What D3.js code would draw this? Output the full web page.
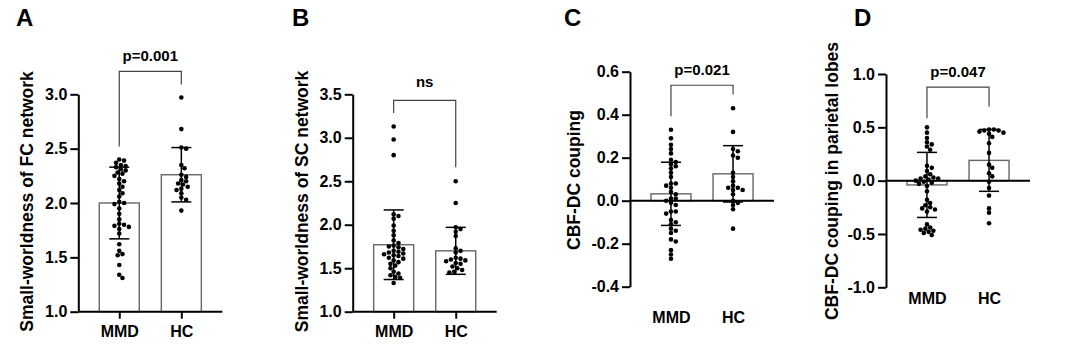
<!DOCTYPE html>
<html><head><meta charset="utf-8">
<script src="https://cdn.jsdelivr.net/npm/d3@7"></script>
<style>
html,body{margin:0;padding:0;background:#fff;}
svg text{font-family:"Liberation Sans",Arial,sans-serif;font-weight:bold;fill:#000;}
</style></head>
<body>
<svg id="chart" width="1080" height="355"></svg>
<script>
// ---------- DATA ----------
const categories = ["MMD", "HC"];
const panelLetters = ["A", "B", "C", "D"];
const yTitles = ["Small-worldness of FC network", "Small-worldness of SC network", "CBF-DC couping", "CBF-DC couping in parietal lobes"];
const pLabels = ["p=0.001", "ns", "p=0.021", "p=0.047"];

const fcTicks = [1.0, 1.5, 2.0, 2.5, 3.0];
const scTicks = [1.0, 1.5, 2.0, 2.5, 3.0, 3.5];
const cbfTicks = [-0.4, -0.2, 0.0, 0.2, 0.4, 0.6];
const parTicks = [-1.0, -0.5, 0.0, 0.5, 1.0];

const fcMMD = [2.40, 2.39, 2.37, 2.35, 2.34, 2.33, 2.31, 2.30, 2.28, 2.27, 2.25, 2.22, 2.20, 2.18, 2.15, 2.12, 2.09, 2.06, 2.01, 2.00, 1.99, 1.95, 1.90, 1.85, 1.81, 1.80, 1.79, 1.78, 1.76, 1.72, 1.62, 1.56, 1.53, 1.52, 1.43, 1.34, 1.31];
const fcHC = [2.97, 2.68, 2.51, 2.50, 2.35, 2.32, 2.26, 2.24, 2.21, 2.20, 2.18, 2.17, 2.15, 2.13, 2.12, 2.09, 2.05, 2.03, 1.93];
const fcMean = [2.00, 2.26];
const fcSD = [0.33, 0.25];

const scMMD = [3.13, 2.98, 2.80, 2.12, 2.10, 2.07, 1.99, 1.93, 1.88, 1.82, 1.79, 1.76, 1.75, 1.74, 1.72, 1.70, 1.69, 1.68, 1.67, 1.66, 1.65, 1.64, 1.62, 1.61, 1.59, 1.57, 1.55, 1.53, 1.50, 1.46, 1.44, 1.42, 1.40, 1.39, 1.33];
const scHC = [2.50, 2.25, 1.97, 1.95, 1.92, 1.87, 1.73, 1.70, 1.68, 1.62, 1.61, 1.60, 1.59, 1.58, 1.56, 1.55, 1.52, 1.50, 1.48, 1.46, 1.45];
const scMean = [1.77, 1.70];
const scSD = [0.40, 0.27];

const cbfMMD = [0.33, 0.29, 0.26, 0.24, 0.22, 0.19, 0.18, 0.17, 0.16, 0.15, 0.13, 0.11, 0.08, 0.08, 0.07, 0.06, 0.04, 0.03, 0.01, 0.01, 0.00, -0.01, -0.02, -0.05, -0.05, -0.06, -0.09, -0.10, -0.11, -0.13, -0.14, -0.15, -0.18, -0.19, -0.23, -0.25, -0.27];
const cbfHC = [0.43, 0.32, 0.24, 0.23, 0.21, 0.20, 0.13, 0.11, 0.09, 0.07, 0.06, 0.06, 0.05, 0.05, 0.03, 0.00, -0.01, -0.02, -0.04, -0.13];
const cbfMean = [0.032, 0.125];
const cbfSD = [0.147, 0.131];

const parMMD = [0.50, 0.45, 0.40, 0.36, 0.34, 0.32, 0.29, 0.14, 0.12, 0.09, 0.06, 0.04, 0.03, 0.02, 0.02, 0.01, 0.00, -0.01, -0.02, -0.03, -0.05, -0.10, -0.18, -0.21, -0.23, -0.25, -0.26, -0.27, -0.29, -0.41, -0.44, -0.45, -0.46, -0.47, -0.48, -0.49, -0.51];
const parHC = [0.48, 0.48, 0.47, 0.47, 0.46, 0.45, 0.44, 0.41, 0.35, 0.26, 0.15, 0.12, 0.07, 0.04, -0.01, -0.07, -0.14, -0.26, -0.30, -0.40];
const parMean = [-0.04, 0.19];
const parSD = [0.305, 0.29];

// ---------- LAYOUT ----------
const panels = [
  {groups: [fcMMD, fcHC], mean: fcMean, sd: fcSD, ticks: fcTicks, domain: [1, 3],
   left: 78.3, top: 94.3, bottom: 311.7, base: 1, xLabY: 336.7, xTicks: true,
   bracket: [3.21, 2.52, 3.09], pY: 60.5, letterX: 16, ylabX: 33, ylabCY: 201.5},
  {groups: [scMMD, scHC], mean: scMean, sd: scSD, ticks: scTicks, domain: [1, 3.5],
   left: 352.7, top: 94.3, bottom: 311.7, base: 1, xLabY: 336.7, xTicks: true,
   bracket: [3.43, 3.285, 2.66], pY: 87.3, letterX: 292, ylabX: 308, ylabCY: 201.5},
  {groups: [cbfMMD, cbfHC], mean: cbfMean, sd: cbfSD, ticks: cbfTicks, domain: [-0.4, 0.6],
   left: 630, top: 71.7, bottom: 286.7, base: 0, xLabY: 323, xTicks: false,
   bracket: [0.537, 0.393, 0.494], pY: 75, letterX: 564, ylabX: 579.5, ylabCY: 180},
  {groups: [parMMD, parHC], mean: parMean, sd: parSD, ticks: parTicks, domain: [-1, 1],
   left: 886, top: 74, bottom: 287.3, base: 0, xLabY: 304, xTicks: false,
   bracket: [0.876, 0.585, 0.694], pY: 76.5, letterX: 854, ylabX: 838, ylabCY: 181}
];

const svg = d3.select("#chart");
const W = 144, barW = 40, capW = 20, r = 2.3;
const fmt = v => d3.format(".1f")(v).replace("\u2212", "-");

function swarm(values, y) {
  const placed = [];
  const out = [];
  const sorted = values.map((v, i) => ({v, i})).sort((a, b) => b.v - a.v);
  const minD = 2 * r * 0.92, step = 1.6;
  sorted.forEach(p => {
    const py = y(p.v);
    let k = 0, dx = 0;
    while (true) {
      const cand = k === 0 ? 0 : (k % 2 === 1 ? 1 : -1) * Math.ceil(k / 2) * step;
      const ok = placed.every(q => Math.hypot(q.dx - cand, q.py - py) >= minD);
      if (ok) { dx = cand; break; }
      k++;
    }
    placed.push({dx, py});
    out.push({v: p.v, dx, py});
  });
  return out;
}

panels.forEach((P, pi) => {
  const g = svg.append("g");
  const y = d3.scaleLinear().domain(P.domain).range([P.bottom, P.top]);
  const x = d3.scalePoint().domain(categories).range([P.left, P.left + W]).padding(0.66);
  const baseY = y(P.base);

  // bars
  g.selectAll("rect.bar").data(categories).join("rect")
    .attr("x", d => x(d) - barW / 2)
    .attr("width", barW)
    .attr("y", (d, i) => Math.min(y(P.mean[i]), baseY))
    .attr("height", (d, i) => Math.abs(y(P.mean[i]) - baseY))
    .attr("fill", "#fff").attr("stroke", "#666").attr("stroke-width", 1.4);

  // dots
  categories.forEach((c, ci) => {
    const pts = swarm(P.groups[ci], y);
    g.append("g").selectAll("circle").data(pts).join("circle")
      .attr("cx", d => x(c) + d.dx).attr("cy", d => d.py).attr("r", r).attr("fill", "#000");
  });

  // error bars
  categories.forEach((c, ci) => {
    const lo = y(P.mean[ci] - P.sd[ci]), hi = y(P.mean[ci] + P.sd[ci]);
    const eg = g.append("g").attr("stroke", "#000").attr("stroke-width", 1.5);
    eg.append("line").attr("x1", x(c)).attr("x2", x(c)).attr("y1", lo).attr("y2", hi);
    eg.append("line").attr("x1", x(c) - capW / 2).attr("x2", x(c) + capW / 2).attr("y1", lo).attr("y2", lo);
    eg.append("line").attr("x1", x(c) - capW / 2).attr("x2", x(c) + capW / 2).attr("y1", hi).attr("y2", hi);
  });

  // y axis
  const ya = g.append("g").attr("transform", `translate(${P.left},0)`)
    .call(d3.axisLeft(y).tickValues(P.ticks).tickFormat(fmt).tickSize(8).tickSizeOuter(0).tickPadding(3));
  ya.select(".domain").attr("stroke", "#000").attr("stroke-width", 2);
  ya.selectAll(".tick line").attr("stroke", "#000").attr("stroke-width", 2);
  ya.selectAll(".tick text").attr("font-size", 16).attr("font-family", null);

  // x axis
  const xa = g.append("g").attr("transform", `translate(0,${baseY})`)
    .call(d3.axisBottom(x).tickSize(P.xTicks ? 7 : 0).tickSizeOuter(0));
  xa.select(".domain").attr("d", `M${P.left},0H${P.left + W}`).attr("stroke", "#000").attr("stroke-width", 2);
  xa.selectAll(".tick line").attr("stroke", "#000").attr("stroke-width", 2);
  xa.selectAll(".tick text").attr("font-size", 16).attr("font-family", null)
    .attr("y", P.xLabY - baseY).attr("dy", 0);

  // bracket
  const [bt, bl, br] = P.bracket;
  g.append("path")
    .attr("d", `M${x("MMD")},${y(bl)}V${y(bt)}H${x("HC")}V${y(br)}`)
    .attr("fill", "none").attr("stroke", "#444").attr("stroke-width", 1.2);
  g.append("text").attr("x", (x("MMD") + x("HC")) / 2).attr("y", P.pY)
    .attr("text-anchor", "middle").attr("font-size", 15).text(pLabels[pi]);

  // y title
  g.append("text")
    .attr("transform", `translate(${P.ylabX},${P.ylabCY}) rotate(-90)`)
    .attr("text-anchor", "middle").attr("font-size", 17.5).text(yTitles[pi]);

  // panel letter
  g.append("text").attr("x", P.letterX).attr("y", 26).attr("font-size", 24).text(panelLetters[pi]);
});
</script>
</body></html>
